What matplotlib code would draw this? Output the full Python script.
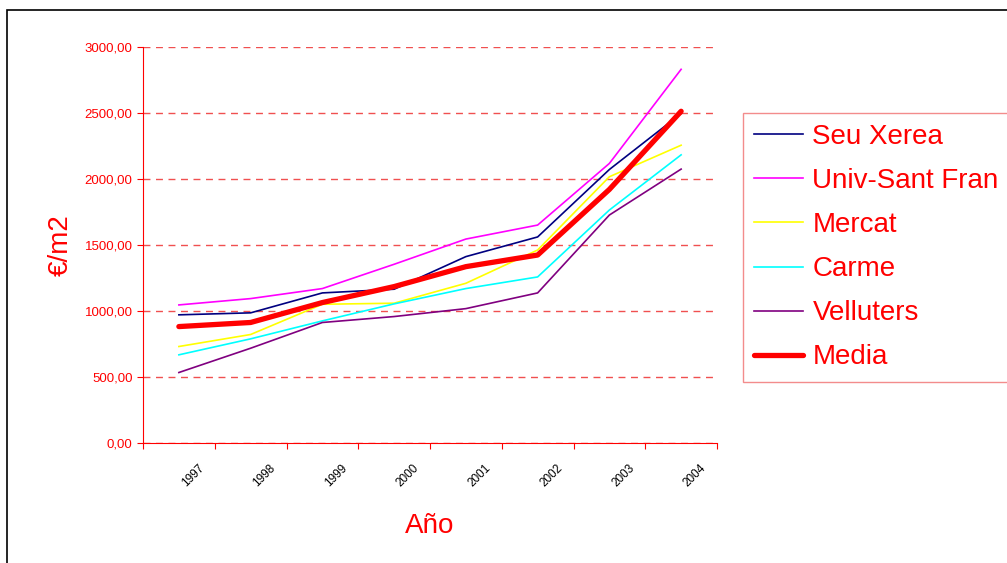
import matplotlib.pyplot as plt
import matplotlib.transforms as mtransforms
from matplotlib.patches import Rectangle

# price per m2 by year and zone
years = ['1997', '1998', '1999', '2000', '2001', '2002', '2003', '2004']
seu_xerea = [971, 986, 1137, 1165, 1412, 1561, 2072, 2496]
univ_sant_fran = [1046, 1094, 1170, 1354, 1545, 1651, 2118, 2831]
mercat = [731, 822, 1051, 1059, 1210, 1462, 2017, 2256]
carme = [668, 789, 925, 1054, 1170, 1258, 1765, 2183]
velluters = [534, 718, 913, 958, 1018, 1137, 1727, 2075]
media = [882, 913, 1064, 1185, 1336, 1424, 1921, 2513]

plt.rcParams['font.family'] = ['Liberation Sans', 'DejaVu Sans']

fig = plt.figure(figsize=(10.07, 5.63), dpi=100)
fig.patches.append(Rectangle((7/1007, -0.1), 1.2, 1 - 10/563 + 0.1, transform=fig.transFigure,
                             fill=False, edgecolor='black', linewidth=1.2))

ax = fig.add_axes([143/1007, 120/563, 574/1007, 396/563])
x = range(len(years))

ax.plot(x, seu_xerea, color='#000080', lw=1.2, label='Seu Xerea')
ax.plot(x, univ_sant_fran, color='#FF00FF', lw=1.2, label='Univ-Sant Fran')
ax.plot(x, mercat, color='#FFFF00', lw=1.2, label='Mercat')
ax.plot(x, carme, color='#00FFFF', lw=1.2, label='Carme')
ax.plot(x, velluters, color='#800080', lw=1.2, label='Velluters')
ax.plot(x, media, color='#FF0000', lw=3.8, solid_capstyle='round', label='Media')

ax.set_xlim(-0.5, len(years) - 0.5)
ax.set_ylim(0, 3000)
ax.set_yticks(range(0, 3001, 500))
ax.set_yticklabels(['%d,00' % v for v in range(0, 3001, 500)], color='red', fontsize=9.5)
ax.set_xticks([i + 0.5 for i in range(-1, len(years))], minor=False)
ax.set_xticklabels([])
ax.set_xticks(list(x), minor=True)
ax.set_xticklabels(years, minor=True, rotation=45, fontsize=8.5, color='black')
ax.tick_params(axis='x', which='minor', length=0, pad=14)
ax.tick_params(axis='x', which='major', length=4, color='red', direction='out')
ax.tick_params(axis='y', length=4, color='red', direction='out')

# nudge the year labels to the right of their category centre
shift = mtransforms.ScaledTranslation(14/100, 0, fig.dpi_scale_trans)
for lbl in ax.get_xticklabels(minor=True):
    lbl.set_transform(lbl.get_transform() + shift)

for s in ['top', 'right']:
    ax.spines[s].set_visible(False)
for s in ['left', 'bottom']:
    ax.spines[s].set_color('red')

ax.yaxis.grid(True, color='#F05050', linestyle=(0, (5, 4)), lw=1)
ax.set_axisbelow(True)

ax.set_ylabel('€/m2', color='red', fontsize=20, labelpad=8)
ax.set_xlabel('Año', color='red', fontsize=20, labelpad=17)

leg = ax.legend(loc='upper left', bbox_to_anchor=(743/1007, 1 - 113/563),
                bbox_transform=fig.transFigure, fontsize=20, frameon=True,
                fancybox=False, edgecolor='#F07070', labelcolor='red',
                handlelength=1.75, handletextpad=0.35, labelspacing=0.65,
                borderpad=0.4, borderaxespad=0)
leg.get_frame().set_linewidth(1)

fig.savefig('out.png', dpi=100)
